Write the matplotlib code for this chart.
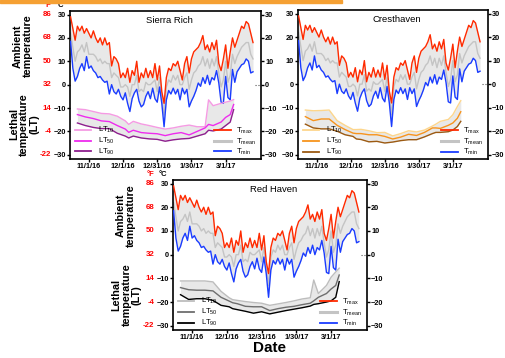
"""
Temperatura ambiente y temperatura letal (LT) de tres variedades, otono-invierno 2016-17.
"""

import matplotlib

matplotlib.use("Agg")

import matplotlib.pyplot as plt
import matplotlib.transforms as mtransforms
import pandas as pd
from matplotlib.lines import Line2D
from matplotlib.patches import Rectangle


plt.rcParams["font.family"] = ["Liberation Sans", "DejaVu Sans"]
plt.rcParams["mathtext.fontset"] = "custom"
plt.rcParams["mathtext.rm"] = "Liberation Sans"
plt.rcParams["mathtext.default"] = "regular"

START = pd.Timestamp("2016-10-16")

# temperatura ambiente (C), cada 2 dias desde START
amb_days = list(range(0, 161, 2))
t_max = [29, 24, 19, 25, 23, 25, 22, 24, 22, 20, 23, 20, 18, 20, 17, 20, 17, 18, 8, 12,
         11, 9, 3, 5, 3, 7, 1, 6, 4, 10, 1, 5, 3, 7, 3, 6, 3, 9, 2, 8,
         -3, -8, 3, 7, 6, 9, 8, 10, 6, 2, 9, 12, 5, 11, 14, 15, 16, 18, 21, 15,
         17, 14, 18, 15, 19, 9, 6, 11, 17, 7, 14, 20, 16, 19, 22, 25, 24, 27, 26, 22, 18]
t_mean = [22, 16, 10, 14, 15, 17, 14, 18, 13, 13, 13, 12, 10, 11, 9, 10, 9, 9, 3, 5,
          4, 3, -1, -1, 0, -1, -5, 0, 0, 4, -3, -2, -3, 1, 0, 0, 1, 2, -3, 3,
          -5, -13, -1, 2, 1, 4, 2, 4, 0, 0, 3, 5, -2, 2, 5, 6, 8, 9, 12, 8,
          11, 7, 11, 8, 12, 5, -1, 2, 10, 1, 4, 13, 9, 12, 14, 16, 17, 18, 18, 13, 11]
t_min = [18.5, 7, 1.5, 3.5, 7, 9, 6, 12, 7, 8, 6, 5, 3, 3.5, 2, 1, 1.5, -4, 0, -3,
         -4, -2, -5, -6.5, -3.5, -8, -11.5, -6, -3.5, -2, -7, -9.5, -8.5, -5, -3, -6, -1.5, -6, -7.5, -1,
         -8, -18, -6.5, -2.5, -4, -1.5, -4, -2, -6.5, -1.5, -4, -2, -9.5, -7, -5, -2.5, 0.7, -0.7, 3, 0.5,
         4, 0, 3, 2, 6, 0.7, -7.5, -8, 3.5, -5.5, -6.5, 6.5, 1, 5.5, 7, 8.5, 9, 11, 10, 5, 5.5]

# temperatura letal (C), dias de muestreo desde START
lt_days = [6, 13, 20, 27, 34, 41, 48, 51, 55, 62, 69, 76, 83, 90, 97, 104, 111, 118, 121, 125, 132, 136, 140, 143]

sr_lt10 = [-10.4, -10.7, -11.5, -12.3, -12.5, -13.5, -15.5, -17, -15.7, -16.8, -17.5, -18.3,
           -19, -18.5, -17.8, -17.3, -18, -18, -6.5, -9, -8, -7.5, -7, -6.4]
sr_lt50 = [-12.8, -13.8, -14.5, -15.5, -15.8, -17.5, -19, -20.4, -19.5, -20.5, -20.8, -21,
           -21.8, -21, -20.5, -21.5, -20, -18.5, -17, -17.5, -16, -14, -12.8, -8.5]
sr_lt90 = [-16.4, -17.5, -18.3, -18.8, -18.8, -20.8, -22, -22.8, -22, -22.8, -23.2, -23.4,
           -24.2, -23.6, -23.2, -23, -22, -21, -19.5, -19.8, -19, -17.5, -16, -10.7]

ch_lt10 = [-11, -11.3, -11.2, -11, -15.5, -17.5, -19.3, -19.3, -19.2, -19.8, -20.6, -20.5,
           -22, -21, -19.8, -20.3, -19.5, -17.8, -17, -15.8, -15, -13, -9.5, -7]
ch_lt50 = [-13.8, -15.5, -14.8, -14.8, -17.5, -19.3, -20.8, -21, -21, -21.5, -21.5, -22.2,
           -23.3, -22.5, -21.3, -21.8, -20.5, -18.6, -18.6, -18.8, -17.5, -16.5, -14.5, -11.7]
ch_lt90 = [-17, -18.6, -19, -19, -20, -21.5, -22.2, -23.3, -23.5, -24.5, -24.3, -25,
           -24.6, -24, -23.6, -23.6, -22.4, -21, -20.5, -20.5, -20.2, -19.5, -18, -15.8]

rh_lt10 = [-11.1, -11.1, -11.1, -11.1, -11.5, -15.5, -18.2, -19, -19.3, -19.8, -20.2, -20.5,
           -21.4, -20.8, -20.2, -19.5, -18.7, -18.2, -10.7, -16.4, -13, -9.5, -7.3, -5.7]
rh_lt50 = [-13.9, -14.8, -15, -15, -15.3, -18, -19.6, -20.3, -20.7, -21.8, -22, -22,
           -23.6, -22.8, -22.2, -21.8, -21.1, -20.5, -19.5, -18, -16.4, -14.5, -13, -8.6]
rh_lt90 = [-16.9, -18.9, -18.6, -18.6, -19.3, -21.4, -22, -22.8, -23.2, -23.9, -24.7, -24.1,
           -25, -24.3, -23.6, -23, -22.4, -21.7, -21, -20.7, -20, -19.5, -18, -11.4]

c_ticks = [-30, -20, -10, 0, 10, 20, 30]
f_labels = ["-22", "-4", "14", "32", "50", "68", "86"]
x_tick_dates = ["2016-11-01", "2016-12-01", "2016-12-31", "2017-01-30", "2017-03-01"]
x_tick_labels = ["11/1/16", "12/1/16", "12/31/16", "1/30/17", "3/1/17"]

RED = "#ff2a00"
BLUE = "#1a3cff"
GRAY = "#c4c4c4"
FILL = "#e8e8e8"
TICK_FS = 5.3


def to_dates(days):
    return START + pd.to_timedelta(days, unit="D")


def draw_panel(ax, name, lt_vals, lt_colors, left_side=True, show_f=True):
    amb_x = to_dates(amb_days)
    lt_x = to_dates(lt_days)
    lt10, lt50, lt90 = lt_vals

    ax.fill_between(amb_x, t_min, t_max, color=FILL, lw=0, zorder=1)
    ax.plot(amb_x, t_mean, color=GRAY, lw=1.0, zorder=2)
    ax.plot(amb_x, t_max, color=RED, lw=1.0, zorder=3)
    ax.plot(amb_x, t_min, color=BLUE, lw=1.0, zorder=3)
    ax.plot(to_dates([162, 167]), [0, 0], color="#555555", lw=0.8, ls=":", zorder=2)

    ax.fill_between(lt_x, lt90, lt10, color=FILL, lw=0, zorder=1)
    for vals, col in zip((lt10, lt50, lt90), lt_colors):
        ax.plot(lt_x, vals, color=col, lw=1.0, zorder=3)

    ax.set_xlim(to_dates([-0.5])[0], to_dates([167])[0])
    ax.set_ylim(-31.8, 31.5)
    ax.set_yticks(c_ticks)
    ax.set_xticks(pd.to_datetime(x_tick_dates))
    ax.set_xticklabels(x_tick_labels)
    ax.tick_params(axis="both", labelsize=TICK_FS, width=1.0, length=2.0, pad=1.0)
    ax.tick_params(axis="y", right=True, labelright=True)
    for lab in ax.get_xticklabels() + ax.get_yticklabels():
        lab.set_fontweight("bold")
    for sp in ax.spines.values():
        sp.set_linewidth(1.2)

    ax.text(0.52, 0.935, name, transform=ax.transAxes, ha="center", va="center", fontsize=6.8)

    h_lt = [Line2D([], [], color=c, lw=1.3) for c in lt_colors]
    leg1 = ax.legend(h_lt, ["LT$_{10}$", "LT$_{50}$", "LT$_{90}$"], loc="lower left",
                     bbox_to_anchor=(0.0, -0.025), frameon=False, fontsize=5.5,
                     handlelength=2.1, handletextpad=0.9, labelspacing=0.1, borderpad=0.2)
    ax.add_artist(leg1)
    h_t = [Line2D([], [], color=RED, lw=1.3), Line2D([], [], color=GRAY, lw=2.2),
           Line2D([], [], color=BLUE, lw=1.3)]
    ax.legend(h_t, ["T$_{max}$", "T$_{mean}$", "T$_{min}$"], loc="lower right",
              bbox_to_anchor=(1.0, -0.025), frameon=False, fontsize=5.5,
              handlelength=2.3, handletextpad=0.6, labelspacing=0.05, borderpad=0.2)

    blend = mtransforms.blended_transform_factory(ax.transAxes, ax.transData)
    if show_f:
        for c, f in zip(c_ticks, f_labels):
            ax.text(-0.097, c, f, transform=blend, ha="right", va="center",
                    fontsize=TICK_FS + 0.4, fontweight="bold", color="red")
        ax.text(-0.095, 1.04, "\u00b0F", transform=ax.transAxes, ha="right", va="center",
                fontsize=5.5, fontweight="bold", color="red")
        ax.text(-0.075, 1.04, "\u00b0C", transform=ax.transAxes, ha="left", va="center",
                fontsize=5.5, fontweight="bold")
    if left_side:
        ax.text(-0.245, 16.5, "Ambient\ntemperature", transform=blend, rotation=90,
                ha="center", va="center", fontsize=7.8, fontweight="bold", linespacing=1.0)
        ax.text(-0.24, -17, "Lethal\ntemperature\n(LT)", transform=blend, rotation=90,
                ha="center", va="center", fontsize=7.8, fontweight="bold", linespacing=1.0)


def main():
    W, H = 505, 358
    fig = plt.figure(figsize=(W / 100, H / 100), dpi=100)

    def px_axes(left, top, right, bottom):
        return fig.add_axes([left / W, 1 - bottom / H, (right - left) / W, (bottom - top) / H])

    ax_sr = px_axes(70, 11, 261, 159)
    ax_ch = px_axes(298, 10, 488, 159)
    ax_rh = px_axes(173, 180, 367, 330)

    draw_panel(ax_sr, "Sierra Rich", (sr_lt10, sr_lt50, sr_lt90),
               ("#f59be3", "#ee2cee", "#8e1f8e"))
    draw_panel(ax_ch, "Cresthaven", (ch_lt10, ch_lt50, ch_lt90),
               ("#fdd68c", "#f7941d", "#9c5a12"), left_side=False, show_f=False)
    draw_panel(ax_rh, "Red Haven", (rh_lt10, rh_lt50, rh_lt90),
               ("#bdbdbd", "#6e6e6e", "#000000"))

    ax_rh.set_xlabel("Date", fontsize=11, fontweight="bold", labelpad=0)

    fig.patches.append(Rectangle((0, 1 - 3 / H), 342 / W, 3 / H, transform=fig.transFigure,
                                 color="#f5a033", zorder=0))

    fig.savefig("out.png", dpi=100)
    plt.close(fig)


if __name__ == "__main__":
    main()
